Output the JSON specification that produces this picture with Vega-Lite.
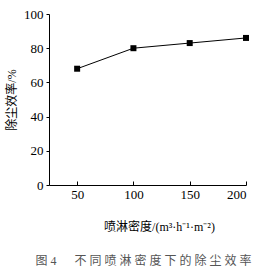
{
  "$schema": "https://vega.github.io/schema/vega-lite/v6.json",
  "width": 197,
  "height": 171,
  "autosize": {"type": "none"},
  "padding": {"left": 49, "top": 14, "right": 28, "bottom": 89},
  "background": "white",
  "title": {
    "text": "图\u00a04\u00a0\u00a0\u00a0\u00a0\u00a0\u00a0不\u00a0同\u00a0喷\u00a0淋\u00a0密\u00a0度\u00a0下\u00a0的\u00a0除\u00a0尘\u00a0效\u00a0率",
    "orient": "bottom",
    "anchor": "middle",
    "font": "Liberation Serif, Noto Sans CJK SC",
    "fontSize": 12,
    "fontWeight": "normal",
    "color": "#555555",
    "offset": 24,
    "dx": -4
  },
  "data": {
    "values": [
      {"density": 50, "efficiency": 68},
      {"density": 100, "efficiency": 80},
      {"density": 150, "efficiency": 83},
      {"density": 200, "efficiency": 86}
    ]
  },
  "mark": {
    "type": "line",
    "color": "black",
    "strokeWidth": 1,
    "point": {"shape": "square", "filled": true, "size": 36, "color": "black", "opacity": 1}
  },
  "encoding": {
    "x": {
      "field": "density",
      "type": "quantitative",
      "scale": {"domain": [25, 200], "nice": false, "zero": false},
      "axis": {
        "values": [50, 100, 150, 200],
        "title": "喷淋密度/(m³·h⁻¹·m⁻²)",
        "titleFont": "Liberation Serif, Noto Sans CJK SC",
        "titleFontSize": 12,
        "titleFontWeight": "normal",
        "titleColor": "black",
        "titlePadding": 20,
        "titleX": 110,
        "labelFont": "Liberation Serif",
        "labelFontSize": 13,
        "labelColor": "black",
        "labelPadding": 7,
        "tickSize": -4,
        "tickColor": "black",
        "domainColor": "black",
        "grid": false
      }
    },
    "y": {
      "field": "efficiency",
      "type": "quantitative",
      "scale": {"domain": [0, 100], "nice": false},
      "axis": {
        "values": [0, 20, 40, 60, 80, 100],
        "title": "除尘效率/%",
        "titleFont": "Liberation Serif, Noto Sans CJK SC",
        "titleFontSize": 12,
        "titleFontWeight": "normal",
        "titleColor": "black",
        "titlePadding": 5,
        "labelFont": "Liberation Serif",
        "labelFontSize": 13,
        "labelColor": "black",
        "labelPadding": 3,
        "tickSize": 3,
        "tickColor": "black",
        "domainColor": "black",
        "grid": false
      }
    }
  },
  "config": {"view": {"stroke": null}}
}
